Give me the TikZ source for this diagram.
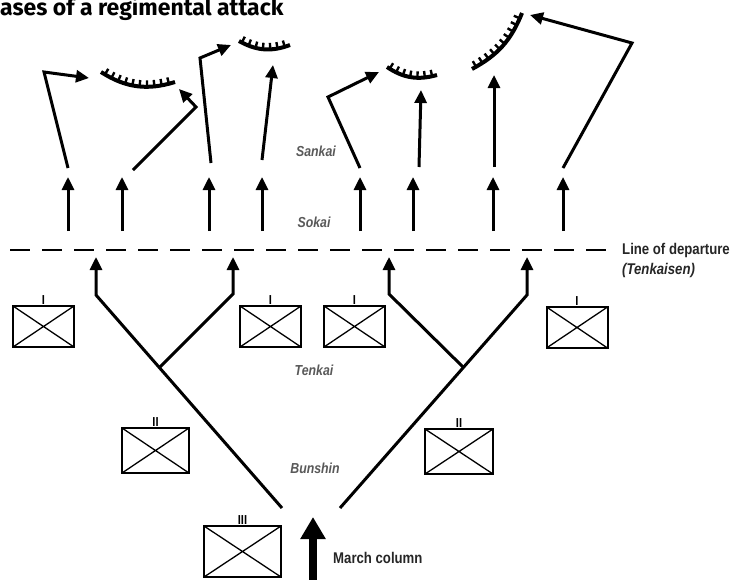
\documentclass[tikz,border=0pt]{standalone}
\usepackage{fontspec}
\setmainfont{Liberation Sans}[FakeStretch=0.85]
\newfontfamily\titlefont{Fira Sans}
\usetikzlibrary{arrows.meta,decorations.markings}
\begin{document}
\begin{tikzpicture}[x=1pt,y=-1pt,
  mv/.style={line width=3pt,-{Triangle[width=12pt,length=13pt]}},
  trench/.style={line width=4pt,postaction={decorate},
    decoration={markings,mark=between positions 0.06 and 0.96 step 7.4pt with {\draw[line width=2.4pt] (0pt,0pt) -- (0pt,6.5pt);}}},
  unit/.style={draw,line width=2pt,inner sep=0pt,
    path picture={\draw[line width=1.3pt] (path picture bounding box.north west) -- (path picture bounding box.south east)
      (path picture bounding box.south west) -- (path picture bounding box.north east);}},
  ech/.style={font=\bfseries\fontsize{13}{13}\selectfont,inner sep=1pt,anchor=south},
  phase/.style={font=\bfseries\itshape\fontsize{14.5}{16}\selectfont,text=black!65},
  side/.style={font=\bfseries\fontsize{15.5}{17}\selectfont,text=black!85,anchor=west,inner sep=0pt}
]
\useasboundingbox (0,0) rectangle (735,579);
\fill[white] (0,0) rectangle (735,579);

% title
\node[anchor=base west,inner sep=0pt,font=\titlefont\bfseries\fontsize{23}{25}\selectfont] (title) at (0,15) {ases of a regimental attack};

% line of departure
\coordinate (d0) at (10,250);
\coordinate (d1) at (608,250);
\draw[line width=2pt,dash pattern=on 20pt off 12pt] (d0) -- (d1);
\node[side] (lod) at (622,250) {Line of departure};
\node[side,font=\bfseries\itshape\fontsize{15.5}{17}\selectfont] (tks) at (622,270) {(Tenkaisen)};

% units
\node[unit,minimum width=61pt,minimum height=41pt] (u1) at (43.5,326.5) {};
\node[unit,minimum width=61pt,minimum height=41pt] (u2) at (270.5,326.5) {};
\node[unit,minimum width=61pt,minimum height=41pt] (u3) at (354.5,326.5) {};
\node[unit,minimum width=61pt,minimum height=41pt] (u4) at (577,327.5) {};
\node[unit,minimum width=67pt,minimum height=45pt] (u5) at (155.5,450.5) {};
\node[unit,minimum width=68pt,minimum height=45pt] (u6) at (459,451.5) {};
\node[unit,minimum width=77pt,minimum height=51pt] (u7) at (242.5,551.5) {};
\node[ech] (e1) at ([yshift=-1pt]u1.north) {I};
\node[ech] (e2) at ([yshift=-1pt]u2.north) {I};
\node[ech] (e3) at ([yshift=-1pt]u3.north) {I};
\node[ech] (e4) at ([yshift=-1pt]u4.north) {I};
\node[ech] (e5) at ([yshift=-1pt]u5.north) {II};
\node[ech] (e6) at ([yshift=-1pt]u6.north) {II};
\node[ech] (e7) at ([yshift=-1pt]u7.north) {III};

% phase labels
\node[phase] (sankai) at (316,151) {Sankai};
\node[phase] (sokai) at (314,222) {Sokai};
\node[phase] (tenkai) at (314,370) {Tenkai};
\node[phase] (bunshin) at (315,468) {Bunshin};

% march column
\coordinate (m0) at (313,582);
\coordinate (m1) at (313,517);
\draw[line width=8pt,-{Triangle[width=24pt,length=22pt]}] (m0) -- (m1);
\node[side] (march) at (333,558) {March column};

% deployment trees
\coordinate (L0) at (282,508); \coordinate (L1) at (96,295); \coordinate (L2) at (96,257);
\coordinate (LB0) at (160,367); \coordinate (LB1) at (233,294); \coordinate (LB2) at (233,257);
\coordinate (R0) at (340,508); \coordinate (R1) at (527,295); \coordinate (R2) at (527,257);
\coordinate (RB0) at (463,367); \coordinate (RB1) at (389,294); \coordinate (RB2) at (389,257);
\draw[mv] (L0) -- (L1) -- (L2);
\draw[mv] (LB0) -- (LB1) -- (LB2);
\draw[mv] (R0) -- (R1) -- (R2);
\draw[mv] (RB0) -- (RB1) -- (RB2);

% sokai arrows
\foreach \x [count=\i] in {68,122,209,262,360,413,493,563}{
  \coordinate (s\i a) at (\x,231);
  \coordinate (s\i b) at (\x,177);
  \draw[mv] (s\i a) -- (s\i b);
}

% sankai arrows
\coordinate (a1) at (68,168); \coordinate (a1m) at (44,72); \coordinate (a1e) at (89,78);
\draw[mv] (a1) -- (a1m) -- (a1e);
\coordinate (a2) at (133,170); \coordinate (a2m) at (196,107); \coordinate (a2e) at (179,89);
\draw[mv] (a2) -- (a2m) -- (a2e);
\coordinate (a3) at (211,163); \coordinate (a3m) at (200,58); \coordinate (a3e) at (231,45);
\draw[mv] (a3) -- (a3m) -- (a3e);
\coordinate (a4) at (262,160); \coordinate (a4e) at (273,65);
\draw[mv] (a4) -- (a4e);
\coordinate (a5) at (360,168); \coordinate (a5m) at (328,97); \coordinate (a5e) at (379,72);
\draw[mv] (a5) -- (a5m) -- (a5e);
\coordinate (a6) at (419,167); \coordinate (a6e) at (421,90);
\draw[mv] (a6) -- (a6e);
\coordinate (a7) at (494,167); \coordinate (a7e) at (494,75);
\draw[mv] (a7) -- (a7e);
\coordinate (a8) at (563,168); \coordinate (a8m) at (632,43); \coordinate (a8e) at (530,15);
\draw[mv] (a8) -- (a8m) -- (a8e);

% entrenchments
\coordinate (t1a) at (101,72); \coordinate (t1b) at (175,82);
\draw[trench] (t1a) to[bend right=25] (t1b);
\coordinate (t2a) at (239,41); \coordinate (t2b) at (290,45);
\draw[trench] (t2a) to[bend right=25] (t2b);
\coordinate (t3a) at (387,67); \coordinate (t3b) at (437,75);
\draw[trench] (t3a) to[bend right=25] (t3b);
\coordinate (t4a) at (472,69); \coordinate (t4b) at (522,13);
\draw[trench] (t4a) to[bend right=20] (t4b);
\end{tikzpicture}
\end{document}
